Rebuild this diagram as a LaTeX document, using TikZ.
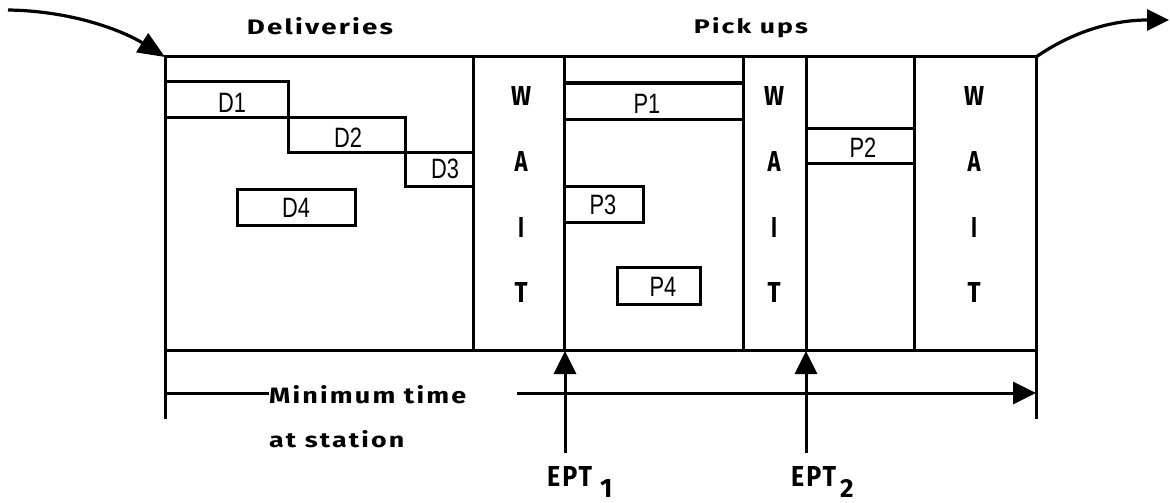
\documentclass[tikz,border=0pt]{standalone}
\usepackage{fontspec}
\usepackage{graphicx}
\setmainfont{Liberation Sans}
\newfontfamily\boxfont[FakeStretch=0.78]{Liberation Sans}
\newfontfamily\chifont[LetterSpace=8]{Fira Sans}
\usetikzlibrary{arrows.meta}
\newcommand{\fitlbl}[3]{\resizebox{#1}{#2}{\chifont\bfseries #3}}
\newcommand{\boxlbl}[1]{{\boxfont\fontsize{28pt}{28pt}\selectfont #1}}
\begin{document}
\begin{tikzpicture}[x=1pt,y=-1pt,
  ln/.style={line width=3pt},
  tip/.style={-{Triangle[length=23pt,width=22pt]}},
  lbl/.style={inner sep=0pt,anchor=base},
]
\useasboundingbox (0,0) rectangle (1170,503);
% frame
\draw[ln,line join=miter] (165,419) -- (165,57) -- (1036,57) -- (1036,419);
\draw[ln] (165,350) -- (1036,350);
\foreach \x in {473,564,743,806,914} \draw[ln] (\x,57) -- (\x,350);
% deliveries staircase
\draw[ln] (165,82) -- (288,82) -- (288,152) -- (473,152);
\draw[ln] (165,117) -- (405,117) -- (405,186) -- (473,186);
\draw[ln] (237,189) rectangle (355,225);
% pick ups
\draw[ln] (564,83) -- (743,83);
\draw[ln] (564,119) -- (743,119);
\draw[ln] (806,128) -- (914,128);
\draw[ln] (806,163) -- (914,163);
\draw[ln] (564,186) -- (643,186) -- (643,222) -- (564,222);
\draw[ln] (617,267) rectangle (700,304);
% box labels
\node[lbl] (d1) at (232,112) {\boxlbl{D1}};
\node[lbl] (d2) at (348,147) {\boxlbl{D2}};
\node[lbl] (d3) at (445,178) {\boxlbl{D3}};
\node[lbl] (d4) at (296,217) {\boxlbl{D4}};
\node[lbl] (p1) at (647,113) {\boxlbl{P1}};
\node[lbl] (p2) at (863,157) {\boxlbl{P2}};
\node[lbl] (p3) at (603,214) {\boxlbl{P3}};
\node[lbl] (p4) at (663,296) {\boxlbl{P4}};
% titles
\node[lbl] (deliv) at (320,35) {\fitlbl{146pt}{17pt}{Deliveries}};
\node[lbl] (picks) at (751,34) {\fitlbl{114pt}{16pt}{Pick ups}};
% WAIT columns
\foreach \c/\x in {1/521,2/774,3/974}{
  \node[lbl] (W\c) at (\x,106) {\resizebox{20pt}{19pt}{\chifont\bfseries W}};
  \node[lbl] (A\c) at (\x,171) {\resizebox{13pt}{20pt}{\chifont\bfseries A}};
  \node[lbl] (I\c) at (\x,237) {\resizebox{6pt}{20pt}{\chifont\bfseries I}};
  \node[lbl] (T\c) at (\x,302) {\resizebox{13pt}{20pt}{\chifont\bfseries T}};
}
% entry and exit arrows
\coordinate (inS) at (8,10);
\coordinate (inE) at (165,57);
\draw[line width=3.2pt,-{Triangle[length=27pt,width=22pt]}] (inS) .. controls (75,11) and (125,32) .. (inE);
\coordinate (outS) at (1036,57);
\coordinate (outE) at (1169,20);
\draw[line width=3.2pt,-{Triangle[length=22pt,width=21pt]}] (outS) .. controls (1075,30) and (1115,20) .. (outE);
% minimum time
\node[lbl,anchor=base west] (mint) at (269,403) {\fitlbl{197pt}{18pt}{Minimum time}};
\node[lbl,anchor=base west] (atst) at (269,447) {\fitlbl{135pt}{17pt}{at station}};
\coordinate (mL) at (165,393);
\coordinate (mS) at (517,393);
\coordinate (mR) at (1036,393);
\draw[ln] (mL) -- (mint.west |- mL);
\draw[ln,tip] (mS) -- (mR);
% EPT arrows
\coordinate (e1b) at (565,453);
\coordinate (e1t) at (565,351);
\coordinate (e2b) at (806,453);
\coordinate (e2t) at (806,351);
\draw[ln,tip] (e1b) -- (e1t);
\draw[ln,tip] (e2b) -- (e2t);
\node[lbl,anchor=base west] (ept1) at (547,486) {\fitlbl{45pt}{20pt}{EPT}};
\node[lbl,anchor=base west] (sub1) at (600,497) {\resizebox{!}{18pt}{\chifont\bfseries 1}};
\node[lbl,anchor=base west] (ept2) at (791,486) {\fitlbl{45pt}{20pt}{EPT}};
\node[lbl,anchor=base west] (sub2) at (840,497) {\resizebox{!}{18pt}{\chifont\bfseries 2}};
\end{tikzpicture}
\end{document}
